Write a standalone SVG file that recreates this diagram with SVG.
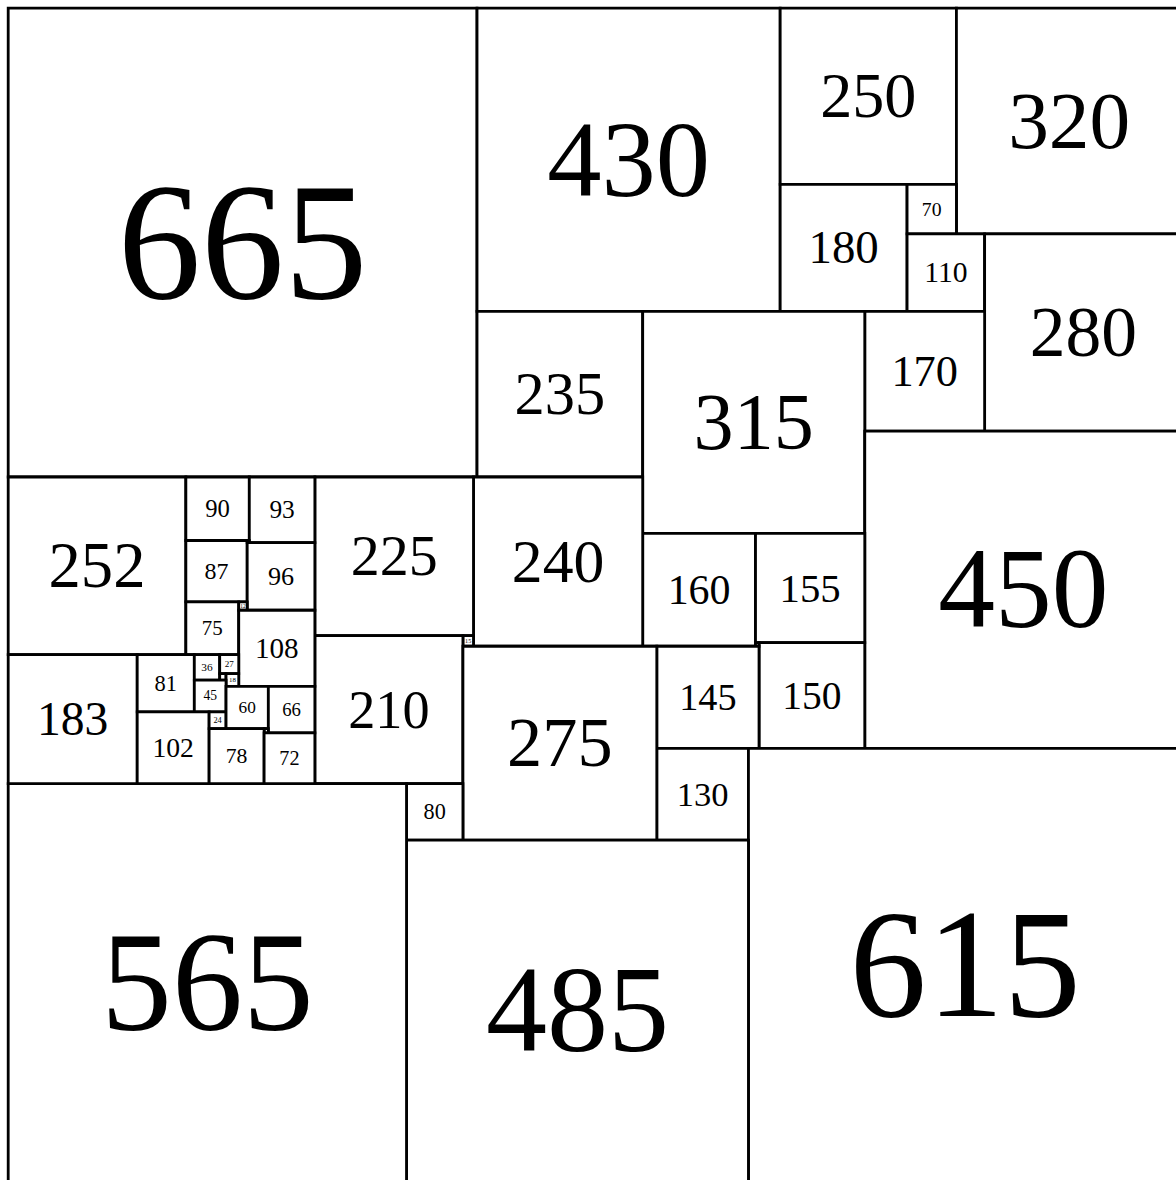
<svg xmlns="http://www.w3.org/2000/svg" width="1176" height="1180" viewBox="0 0 1176 1180">
<style>
rect{fill:#fff;stroke:#000;stroke-width:2.8px;vector-effect:non-scaling-stroke}
text{font-family:"Liberation Serif","Times New Roman",serif;text-anchor:middle;fill:#000}
</style>
<rect x="0" y="0" width="1176" height="1180" style="stroke:none"/>
<g id="squares" transform="translate(8.2,8.2) scale(0.705)">
<g id="s665"><rect x="0" y="0" width="665" height="665"/><text x="332.5" y="410.5" font-size="236.25">665</text></g>
<g id="s430"><rect x="665" y="0" width="430" height="430"/><text x="880" y="265.8" font-size="154">430</text></g>
<g id="s250"><rect x="1095" y="0" width="250" height="250"/><text x="1220" y="155" font-size="91">250</text></g>
<g id="s320"><rect x="1345" y="0" width="320" height="320"/><text x="1505" y="198.1" font-size="115.5">320</text></g>
<g id="s180"><rect x="1095" y="250" width="180" height="180"/><text x="1185" y="361.9" font-size="66.5">180</text></g>
<g id="s70"><rect x="1275" y="250" width="70" height="70"/><text x="1310" y="294.2" font-size="28">70</text></g>
<g id="s110"><rect x="1275" y="320" width="110" height="110"/><text x="1330" y="388.9" font-size="42">110</text></g>
<g id="s280"><rect x="1385" y="320" width="280" height="280"/><text x="1525" y="493.5" font-size="101.5">280</text></g>
<g id="s170"><rect x="1215" y="430" width="170" height="170"/><text x="1300" y="535.8" font-size="63">170</text></g>
<g id="s235"><rect x="665" y="430" width="235" height="235"/><text x="782.5" y="575.8" font-size="85.75">235</text></g>
<g id="s315"><rect x="900" y="430" width="315" height="315"/><text x="1057.5" y="625" font-size="113.75">315</text></g>
<g id="s450"><rect x="1215" y="600" width="450" height="450"/><text x="1440" y="878.1" font-size="161">450</text></g>
<g id="s160"><rect x="900" y="745" width="160" height="160"/><text x="980" y="844.6" font-size="59.5">160</text></g>
<g id="s155"><rect x="1060" y="745" width="155" height="155"/><text x="1137.5" y="841.6" font-size="57.75">155</text></g>
<g id="s150"><rect x="1065" y="900" width="150" height="150"/><text x="1140" y="993.5" font-size="56">150</text></g>
<g id="s5"><rect x="1060" y="900" width="5" height="5"/></g>
<g id="s145"><rect x="920" y="905" width="145" height="145"/><text x="992.5" y="995.4" font-size="54.25">145</text></g>
<g id="s130"><rect x="920" y="1050" width="130" height="130"/><text x="985" y="1131.2" font-size="49">130</text></g>
<g id="s615"><rect x="1050" y="1050" width="615" height="615"/><text x="1357.5" y="1429.7" font-size="218.75">615</text></g>
<g id="s240"><rect x="660" y="665" width="240" height="240"/><text x="780" y="813.9" font-size="87.5">240</text></g>
<g id="s225"><rect x="435" y="665" width="225" height="225"/><text x="547.5" y="804.6" font-size="82.25">225</text></g>
<g id="s15"><rect x="645" y="890" width="15" height="15"/><text x="652.5" y="900.4" font-size="8.75">15</text></g>
<g id="s210"><rect x="435" y="890" width="210" height="210"/><text x="540" y="1020.4" font-size="77">210</text></g>
<g id="s275"><rect x="645" y="905" width="275" height="275"/><text x="782.5" y="1075.4" font-size="99.75">275</text></g>
<g id="s80"><rect x="565" y="1100" width="80" height="80"/><text x="605" y="1150.4" font-size="31.5">80</text></g>
<g id="s485"><rect x="565" y="1180" width="485" height="485"/><text x="807.5" y="1479.7" font-size="173.25">485</text></g>
<g id="s565"><rect x="0" y="1100" width="565" height="565"/><text x="282.5" y="1448.9" font-size="201.25">565</text></g>
<g id="s252"><rect x="0" y="665" width="252" height="252"/><text x="126" y="821.3" font-size="91.7">252</text></g>
<g id="s183"><rect x="0" y="917" width="183" height="183"/><text x="91.5" y="1030.8" font-size="67.55">183</text></g>
<g id="s90"><rect x="252" y="665" width="90" height="90"/><text x="297" y="721.6" font-size="35">90</text></g>
<g id="s93"><rect x="342" y="665" width="93" height="93"/><text x="388.5" y="723.4" font-size="36.05">93</text></g>
<g id="s87"><rect x="252" y="755" width="87" height="87"/><text x="295.5" y="809.7" font-size="33.95">87</text></g>
<g id="s3"><rect x="339" y="755" width="3" height="3"/></g>
<g id="s96"><rect x="339" y="758" width="96" height="96"/><text x="387" y="818.2" font-size="37.1">96</text></g>
<g id="s75"><rect x="252" y="842" width="75" height="75"/><text x="289.5" y="889.3" font-size="29.75">75</text></g>
<g id="s12"><rect x="327" y="842" width="12" height="12"/><text x="333" y="850.5" font-size="7.7">12</text></g>
<g id="s108"><rect x="327" y="854" width="108" height="108"/><text x="381" y="921.6" font-size="41.3">108</text></g>
<g id="s81"><rect x="183" y="917" width="81" height="81"/><text x="223.5" y="968" font-size="31.85">81</text></g>
<g id="s36"><rect x="264" y="917" width="36" height="36"/><text x="282" y="940.3" font-size="16.1">36</text></g>
<g id="s27"><rect x="300" y="917" width="27" height="27"/><text x="313.5" y="934.8" font-size="12.95">27</text></g>
<g id="s9"><rect x="300" y="944" width="9" height="9"/></g>
<g id="s18"><rect x="309" y="944" width="18" height="18"/><text x="318" y="956.2" font-size="9.8">18</text></g>
<g id="s45"><rect x="264" y="953" width="45" height="45"/><text x="286.5" y="981.9" font-size="19.25">45</text></g>
<g id="s102"><rect x="183" y="998" width="102" height="102"/><text x="234" y="1061.9" font-size="39.2">102</text></g>
<g id="s24"><rect x="285" y="998" width="24" height="24"/><text x="297" y="1013.9" font-size="11.9">24</text></g>
<g id="s60"><rect x="309" y="962" width="60" height="60"/><text x="339" y="1000.1" font-size="24.5">60</text></g>
<g id="s66"><rect x="369" y="962" width="66" height="66"/><text x="402" y="1003.8" font-size="26.6">66</text></g>
<g id="s6"><rect x="363" y="1022" width="6" height="6"/></g>
<g id="s78"><rect x="285" y="1022" width="78" height="78"/><text x="324" y="1071.2" font-size="30.8">78</text></g>
<g id="s72"><rect x="363" y="1028" width="72" height="72"/><text x="399" y="1073.5" font-size="28.7">72</text></g>
</g>
</svg>
